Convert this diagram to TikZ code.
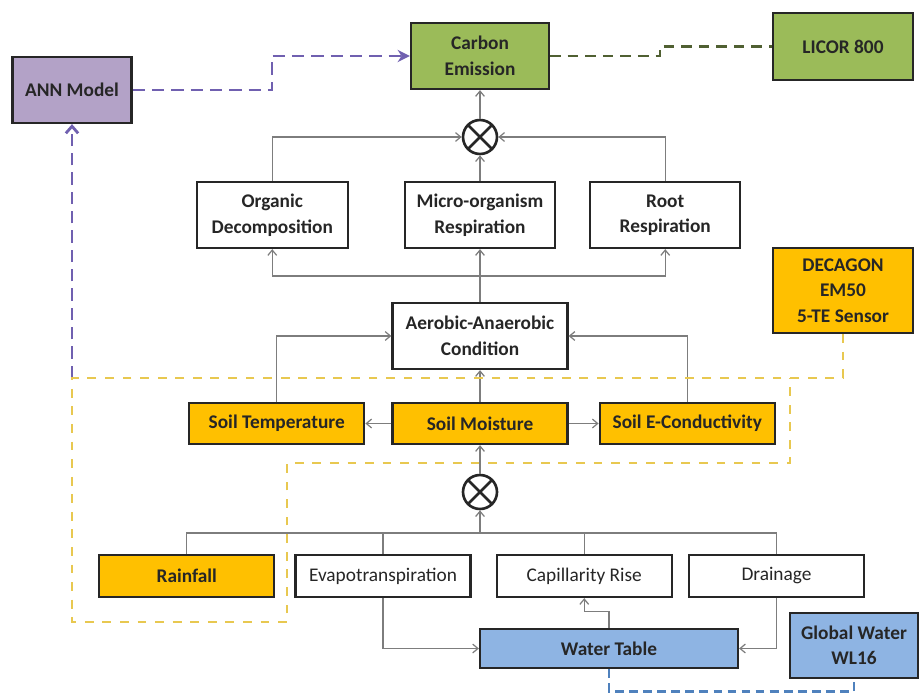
\documentclass[tikz,border=0pt]{standalone}
\usepackage{fontspec}
\setmainfont{Carlito}
\usepackage{xcolor}
\definecolor{annpurple}{RGB}{179,162,199}
\definecolor{leafgreen}{RGB}{155,187,89}
\definecolor{soilorange}{RGB}{255,192,0}
\definecolor{waterblue}{RGB}{142,180,227}
\definecolor{linegray}{RGB}{125,125,125}
\definecolor{dashpurple}{RGB}{112,96,176}
\definecolor{dashyellow}{RGB}{232,200,80}
\definecolor{dasholive}{RGB}{80,96,50}
\definecolor{dashblue}{RGB}{79,129,189}
\usepackage{tikz}
\usetikzlibrary{positioning}
\usetikzlibrary{arrows.meta}
\usetikzlibrary{calc}
\tikzset{box node/.style={rectangle,draw=black!85,line width=1.3pt,fill=white,align=center,inner sep=2pt,minimum height=1.32cm,text=black!85,font=\bfseries\fontsize{11}{14.5}\selectfont},
  soil node/.style={box node,fill=soilorange,minimum width=3.5cm,minimum height=0.82cm},
  flow node/.style={box node,minimum width=3.5cm,minimum height=0.84cm,font=\fontsize{11}{14.5}\selectfont},
  sum node/.style={circle,draw=black!85,line width=1.5pt,minimum size=0.68cm,inner sep=0pt,
    path picture={\draw[line width=1.5pt] ([shift={(45:0.34cm)}]path picture bounding box.center) -- ([shift={(225:0.34cm)}]path picture bounding box.center)
      ([shift={(135:0.34cm)}]path picture bounding box.center) -- ([shift={(315:0.34cm)}]path picture bounding box.center);}},
  flow/.style={draw=linegray,line width=0.7pt,->},
  ann link/.style={draw=dashpurple,line width=1.6pt,dash pattern=on 7pt off 4pt},
  olive link/.style={draw=dasholive,line width=1.4pt,dash pattern=on 6pt off 4pt},
  sensor link/.style={draw=dashyellow,line width=1.2pt,dash pattern=on 5pt off 5pt},
  gauge link/.style={draw=dashblue,line width=1.6pt,dash pattern=on 5pt off 3pt},
}

\begin{document}
\begin{tikzpicture}[x=0.02cm, y=-0.02cm, >={Straight Barb[length=3pt,width=5pt]}]
	\useasboundingbox (0,0) rectangle (919,693);
	% top row
	\node[box node, fill=leafgreen, minimum width=2.76cm] (carbon) at (480,56) {Carbon\\Emission};
	\node[box node, fill=leafgreen, minimum width=2.8cm, minimum height=1.34cm] (licor) at (843,46.5) {LICOR 800};
	\node[box node, fill=annpurple, minimum width=2.38cm] (ann) at (72,90) {ANN Model};
	\node[sum node] (sum1) at (480,137) {};
	% respiration
	\node[box node, minimum width=3cm] (micro) at (480,215) {Micro-organism\\Respiration};
	\node[box node, minimum width=3.02cm] (organic) [left = 1.1cm of micro] {Organic\\Decomposition};
	\node[box node, minimum width=3cm] (root) [right = 0.66cm of micro] {Root\\Respiration};
	\node[box node, minimum width=3.5cm] (aerobic) at (480,336) {Aerobic-Anaerobic\\Condition};
	\node[box node, fill=soilorange, minimum width=2.8cm, minimum height=1.7cm] (decagon) at (843,290.5) {DECAGON\\EM50\\5-TE Sensor};
	% soil
	\node[soil node] (moisture) at (480,423.5) {Soil Moisture};
	\node[soil node] (soiltemp) [left = 0.52cm of moisture] {Soil Temperature};
	\node[soil node] (soilec) [right = 0.6cm of moisture] {Soil E-Conductivity};
	\node[sum node] (sum2) at (480,492) {};
	% water balance
	\node[flow node] (evapo) at (383,576) {Evapotranspiration};
	\node[soil node, minimum height=0.84cm] (rainfall) [left = 0.38cm of evapo] {Rainfall};
	\node[flow node] (capillarity) [right = 0.48cm of evapo] {Capillarity Rise};
	\node[flow node] (drainage) [right = 0.3cm of capillarity] {Drainage};
	\node[box node, fill=waterblue, minimum width=5.16cm, minimum height=0.78cm] (water) at (609,648.5) {Water Table};
	\node[box node, fill=waterblue, minimum width=2.56cm, minimum height=1.3cm] (gauge) at (854,645.5) {Global Water\\WL16};

	\coordinate (split1) at (480,276);
	\coordinate (bus) at (480,533);
	\coordinate (probe) at (72,378);

	\path[flow]
	(sum1) edge (carbon)
	(micro) edge (sum1)
	(aerobic) edge (micro)
	(moisture) edge (aerobic)
	(moisture) edge (soiltemp)
	(moisture) edge (soilec)
	(sum2) edge (moisture);
	\draw[flow] (organic.north) |- (sum1.west);
	\draw[flow] (root.north) |- (sum1.east);
	\draw[flow] (split1) -| (organic.south);
	\draw[flow] (split1) -| (root.south);
	\draw[flow] (soiltemp.north) |- (aerobic.west);
	\draw[flow] (soilec.north) |- (aerobic.east);
	\draw[flow,-] (rainfall.north) |- (bus) -| (drainage.north);
	\draw[flow,-] (evapo.north) -- (evapo.north |- bus);
	\draw[flow,-] (capillarity.north) -- (capillarity.north |- bus);
	\draw[flow] (bus) -- (sum2);
	\draw[flow] (evapo.south) |- (water.west);
	\draw[flow] (drainage.south) |- (water.east);
	\draw[flow] (water.north) -- ++(0,-16) -| (capillarity.south);

	% sensor links
	\draw[ann link,-{Stealth[length=7pt,width=7pt]}] (ann.east) -- (272,90) |- (carbon.west);
	\draw[ann link,-{Straight Barb[length=4pt,width=7pt]}] (probe) -- (ann.south);
	\draw[olive link] (carbon.east) -- (660,56) |- (licor.west);
	\draw[sensor link] (decagon.south) -- (843,378) -- (probe) -- (72,622) -- (287,622) -- (287,463) -- (790,463) -- (790,378);
	\draw[gauge link] (water.south) -- ++(0,22) -| (gauge.south);
\end{tikzpicture}
\end{document}
